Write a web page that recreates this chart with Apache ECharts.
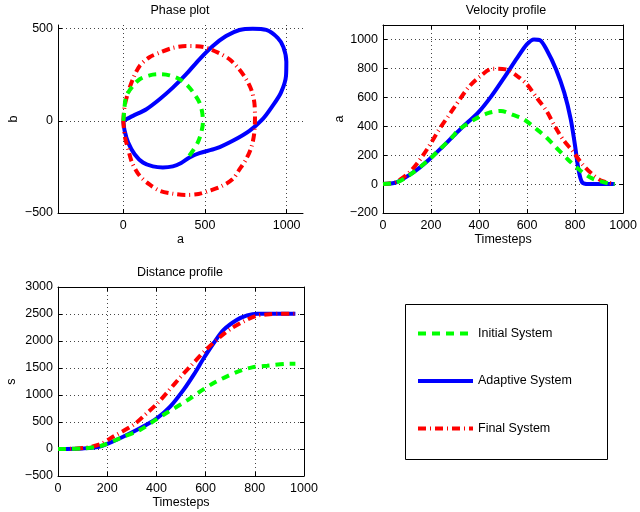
<!DOCTYPE html>
<html>
<head>
<meta charset="utf-8">
<script src="https://cdn.jsdelivr.net/npm/echarts@6/dist/echarts.min.js"></script>
<style>
html, body { margin: 0; padding: 0; background: #fff; }
#chart { width: 640px; height: 512px; }
</style>
</head>
<body>
<div id="chart"></div>
<script>
// phase plot: a (x) against b (y)
const phaseInitA = [0, 8, 18, 59, 100, 161, 222, 283, 344, 395, 436, 466, 483, 487, 477, 456, 426, 395];
const phaseInitB = [0, 81, 135, 190, 226, 247, 253, 247, 226, 190, 144, 99, 45, -9, -63, -117, -162, -199];
const phaseAdaptA = [0, 59, 141, 222, 303, 385, 466, 548, 629, 711, 792, 875, 945, 980, 998, 996, 965, 914, 853, 772, 670, 568, 466, 405, 354, 303, 242, 181, 120, 69, 29, 8, 0];
const phaseAdaptB = [0, 27, 63, 117, 180, 253, 334, 406, 460, 493, 500, 493, 450, 400, 320, 244, 153, 81, 9, -54, -108, -150, -175, -199, -229, -247, -253, -247, -226, -181, -117, -54, 0];
const phaseFinalA = [0, 8, 29, 60, 100, 160, 222, 300, 385, 450, 507, 580, 650, 705, 752, 785, 802, 806, 802, 785, 752, 710, 670, 600, 527, 460, 385, 300, 222, 160, 100, 55, 29, 8, 0];
const phaseFinalB = [0, 80, 153, 230, 298, 345, 370, 395, 406, 405, 397, 370, 334, 285, 226, 165, 99, 20, -63, -140, -208, -265, -316, -355, -379, -397, -402, -395, -379, -345, -298, -230, -153, -80, 0];

// velocity profile
const velInitT = [0, 55, 109, 191, 233, 287, 315, 382, 437, 491, 545, 586, 640, 681, 721, 769, 823, 871, 938, 965];
const velInitA = [0, 10, 60, 168, 235, 322, 375, 448, 490, 506, 476, 448, 379, 322, 253, 172, 92, 39, 5, 0];
const velAdaptT = [0, 55, 109, 150, 191, 240, 287, 330, 396, 450, 504, 559, 599, 629, 654, 681, 721, 755, 782, 800, 814, 830, 857, 965];
const velAdaptA = [0, 12, 62, 110, 168, 245, 322, 392, 494, 605, 735, 872, 966, 1000, 995, 931, 793, 632, 448, 264, 103, 11, 0, 0];
const velFinalT = [0, 55, 109, 150, 191, 233, 270, 301, 355, 403, 457, 511, 559, 599, 640, 681, 715, 749, 789, 830, 871, 911, 965];
const velFinalA = [0, 15, 80, 160, 260, 375, 465, 540, 667, 743, 798, 793, 747, 690, 598, 506, 402, 310, 230, 138, 69, 23, 0];

// distance profile
const distInitT = [0, 100, 173, 254, 335, 390, 444, 498, 538, 586, 640, 687, 742, 789, 850, 945, 965];
const distInitS = [0, 10, 55, 204, 358, 520, 675, 825, 940, 1090, 1240, 1345, 1451, 1512, 1543, 1580, 1580];
const distAdaptT = [0, 100, 173, 254, 335, 403, 457, 511, 552, 593, 633, 674, 728, 769, 809, 850, 965];
const distAdaptS = [0, 10, 49, 204, 389, 574, 790, 1099, 1377, 1685, 1963, 2210, 2395, 2475, 2506, 2506, 2506];
const distFinalT = [0, 60, 116, 173, 227, 308, 362, 403, 450, 498, 538, 599, 654, 701, 755, 809, 860, 904, 965];
const distFinalS = [0, 5, 25, 90, 235, 451, 667, 840, 1080, 1333, 1531, 1827, 2056, 2222, 2364, 2469, 2495, 2506, 2506];

const legendNames = ['Initial System', 'Adaptive System', 'Final System'];

const FONT = 'Liberation Sans';
const FS = 12.5;

const lineStyles = {
  'Initial System': { color: '#00ff00', type: [8, 6] },
  'Adaptive System': { color: '#0000ff', type: 'solid' },
  'Final System': { color: '#ff0000', type: [8, 4, 1, 4] },
};

const pairs = (xs, ys) => xs.map((x, i) => [x, ys[i]]);
const minusFmt = (v) => String(v).replace('-', '\u2212');

const makeSeries = (name, xs, ys, idx) => ({
  name: name,
  type: 'line',
  xAxisIndex: idx,
  yAxisIndex: idx,
  data: pairs(xs, ys),
  symbol: 'none',
  smooth: 0.3,
  lineStyle: {
    color: lineStyles[name].color,
    type: lineStyles[name].type,
    width: 4,
    cap: 'butt',
  },
  itemStyle: { color: lineStyles[name].color },
  animation: false,
});

const axisBase = (gridIndex, extra) => Object.assign({
  type: 'value',
  gridIndex: gridIndex,
  axisLine: { show: true, onZero: false, lineStyle: { color: '#000', width: 1 } },
  axisTick: { show: true, inside: true, length: 4, lineStyle: { color: '#000' } },
  axisLabel: { color: '#000', fontSize: FS, fontFamily: FONT, margin: 6, formatter: minusFmt },
  splitLine: { show: true, lineStyle: { color: '#444', type: [1, 3], width: 1 } },
  nameLocation: 'middle',
  nameTextStyle: { color: '#000', fontSize: FS, fontFamily: FONT },
}, extra);

// mirrored axis for the box (ticks only)
const mirrorAxis = (gridIndex, position, min, max, interval) => ({
  type: 'value',
  gridIndex: gridIndex,
  position: position,
  min: min,
  max: max,
  interval: interval,
  axisLine: { show: true, onZero: false, lineStyle: { color: '#000', width: 1 } },
  axisTick: { show: true, inside: true, length: 4, lineStyle: { color: '#000' } },
  axisLabel: { show: false },
  splitLine: { show: false },
});

const chart = echarts.init(document.getElementById('chart'));

const option = {
  animation: false,
  textStyle: { fontFamily: FONT },
  title: [
    { text: 'Phase plot', left: 180, top: 4, textAlign: 'center', padding: 0,
      textStyle: { fontSize: FS, fontWeight: 'normal', color: '#000', fontFamily: FONT } },
    { text: 'Velocity profile', left: 506, top: 4, textAlign: 'center', padding: 0,
      textStyle: { fontSize: FS, fontWeight: 'normal', color: '#000', fontFamily: FONT } },
    { text: 'Distance profile', left: 180, top: 266, textAlign: 'center', padding: 0,
      textStyle: { fontSize: FS, fontWeight: 'normal', color: '#000', fontFamily: FONT } },
  ],
  grid: [
    { left: 58, top: 25, width: 245, height: 188 },
    { left: 383, top: 25, width: 244, height: 188 },
    { left: 58, top: 287, width: 246, height: 189 },
  ],
  xAxis: [
    axisBase(0, {
      min: -400, max: 1100, name: 'a', nameGap: 19,
      axisTick: { show: true, inside: true, length: 4, lineStyle: { color: '#000' }, customValues: [0, 500, 1000] },
      axisLabel: { color: '#000', fontSize: FS, fontFamily: FONT, margin: 6, formatter: minusFmt, customValues: [0, 500, 1000] },
    }),
    axisBase(1, { min: 0, max: 1000, interval: 200, name: 'Timesteps', nameGap: 19 }),
    axisBase(2, { min: 0, max: 1000, interval: 200, name: 'Timesteps', nameGap: 19 }),
    mirrorAxis(1, 'top', 0, 1000, 200),
    mirrorAxis(2, 'top', 0, 1000, 200),
  ],
  yAxis: [
    axisBase(0, {
      min: -500, max: 520, name: 'b', nameGap: 38,
      axisTick: { show: true, inside: true, length: 4, lineStyle: { color: '#000' }, customValues: [-500, 0, 500] },
      axisLabel: { color: '#000', fontSize: FS, fontFamily: FONT, margin: 5, formatter: minusFmt, customValues: [-500, 0, 500] },
    }),
    axisBase(1, {
      min: -200, max: 1100, interval: 200, name: 'a', nameGap: 37,
      axisLabel: { color: '#000', fontSize: FS, fontFamily: FONT, margin: 5, formatter: minusFmt, showMaxLabel: false },
    }),
    axisBase(2, {
      min: -500, max: 3000, interval: 500, name: 's', nameGap: 40,
      axisLabel: { color: '#000', fontSize: FS, fontFamily: FONT, margin: 5, formatter: minusFmt },
    }),
    mirrorAxis(1, 'right', -200, 1100, 200),
    mirrorAxis(2, 'right', -500, 3000, 500),
  ],
  legend: {
    data: legendNames,
    orient: 'vertical',
    left: 416,
    top: 327,
    padding: 0,
    itemWidth: 55,
    itemHeight: 14,
    itemGap: 34.5,
    selectedMode: false,
    lineStyle: { width: 4 },
    itemStyle: { color: 'rgba(0,0,0,0)', borderColor: 'rgba(0,0,0,0)', borderWidth: 0, opacity: 0 },
    textStyle: { color: '#000', fontSize: FS, fontFamily: FONT },
  },
  graphic: [
    {
      type: 'rect',
      shape: { x: 405.5, y: 304.5, width: 202, height: 155 },
      style: { fill: 'none', stroke: '#000', lineWidth: 1 },
      silent: true,
    },
  ],
  series: [
    makeSeries('Adaptive System', phaseAdaptA, phaseAdaptB, 0),
    makeSeries('Final System', phaseFinalA, phaseFinalB, 0),
    makeSeries('Initial System', phaseInitA, phaseInitB, 0),
    makeSeries('Adaptive System', velAdaptT, velAdaptA, 1),
    makeSeries('Final System', velFinalT, velFinalA, 1),
    makeSeries('Initial System', velInitT, velInitA, 1),
    makeSeries('Adaptive System', distAdaptT, distAdaptS, 2),
    makeSeries('Final System', distFinalT, distFinalS, 2),
    makeSeries('Initial System', distInitT, distInitS, 2),
  ],
};

chart.setOption(option);
</script>
</body>
</html>
